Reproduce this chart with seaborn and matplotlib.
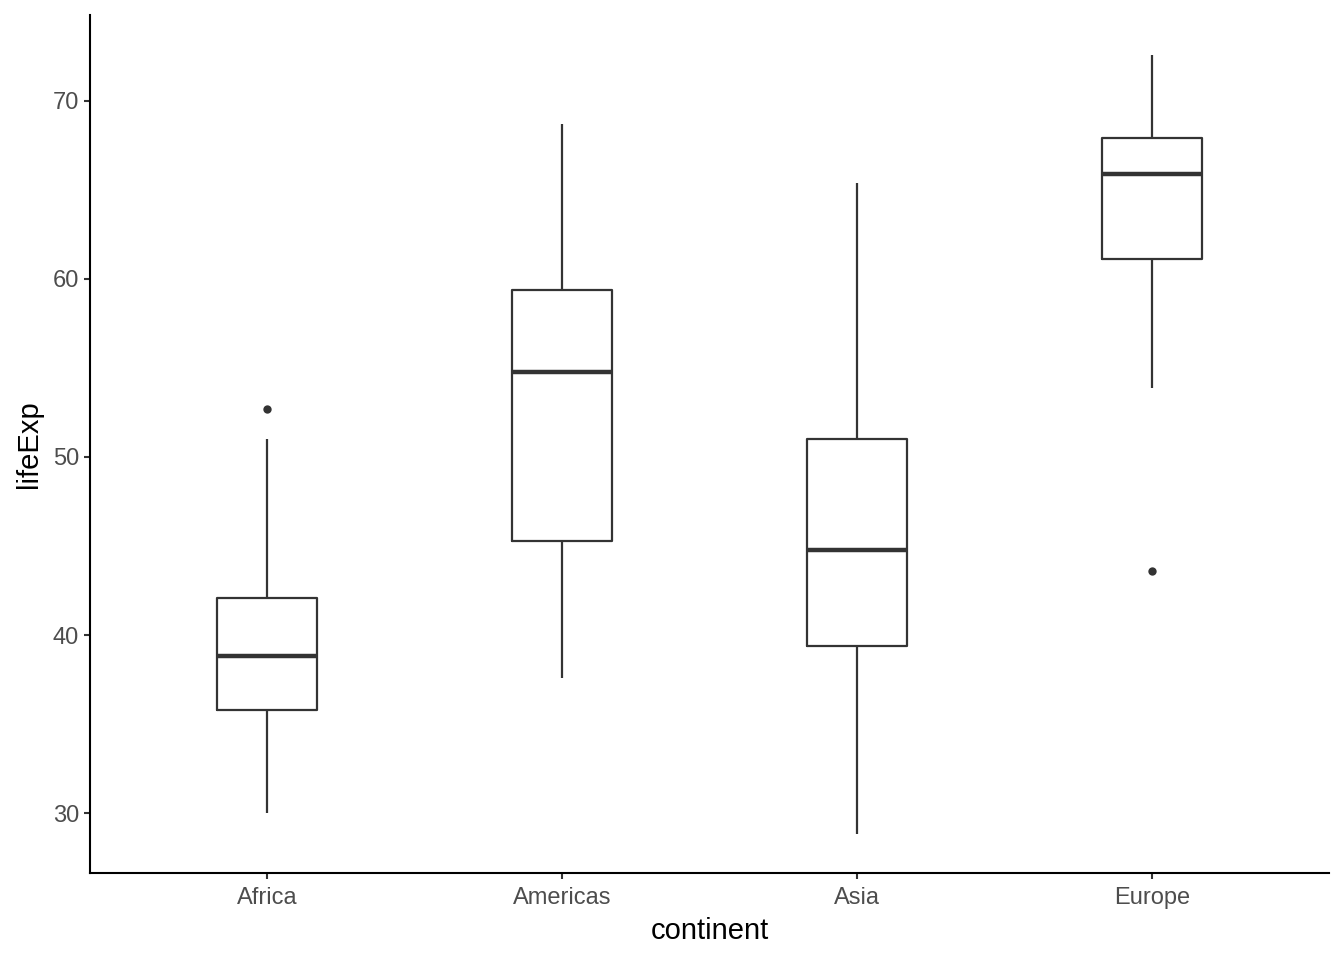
import matplotlib
matplotlib.use("Agg")
import matplotlib.pyplot as plt
import seaborn as sns
import pandas as pd

# Five-number summaries (min whisker, Q1, median, Q3, max whisker)
continents = ["Africa", "Americas", "Asia", "Europe"]
whisker_low = [30.0, 37.6, 28.8, 53.9]
q1 = [35.8, 45.3, 39.4, 61.1]
median = [38.8, 54.8, 44.8, 65.9]
q3 = [42.1, 59.4, 51.0, 67.9]
whisker_high = [51.0, 68.7, 65.4, 72.6]

# Outlying points
outlier_continent = ["Africa", "Europe"]
outlier_value = [52.7, 43.6]

rows = []
for i, c in enumerate(continents):
    for v in (whisker_low[i], q1[i], median[i], q3[i], whisker_high[i]):
        rows.append({"continent": c, "lifeExp": v})
df = pd.DataFrame(rows)
out_df = pd.DataFrame({"continent": outlier_continent, "lifeExp": outlier_value})

sns.set_theme(style="ticks")
plt.rcParams["font.family"] = ["Liberation Sans", "DejaVu Sans"]

fig = plt.figure(figsize=(13.44, 9.6), dpi=100)
ax = fig.add_axes([90 / 1344, 87 / 960, (1329 - 90) / 1344, (873 - 15) / 960])

line_col = "#333333"
sns.boxplot(
    data=df, x="continent", y="lifeExp", order=continents,
    width=0.34, whis=(0, 100), fill=False, color=line_col,
    linewidth=1.6, showfliers=False, showcaps=False, ax=ax,
    medianprops={"linewidth": 3.2, "color": line_col},
)
sns.stripplot(
    data=out_df, x="continent", y="lifeExp", order=continents,
    jitter=False, color=line_col, size=6, linewidth=0, ax=ax,
)

ax.set_xlim(-0.6, 3.6)
ax.set_ylim(26.63, 74.83)
ax.set_yticks([30, 40, 50, 60, 70])

for side in ("top", "right"):
    ax.spines[side].set_visible(False)
for side in ("left", "bottom"):
    ax.spines[side].set_linewidth(1.5)
    ax.spines[side].set_color("black")

ax.tick_params(axis="both", length=4, width=1.5, color="#333333",
               labelsize=17, labelcolor="#4d4d4d", pad=4)
ax.tick_params(axis="x", pad=6)
ax.set_xlabel("continent", fontsize=21, color="black", labelpad=6)
ax.set_ylabel("lifeExp", fontsize=21, color="black", labelpad=7)
ax.grid(False)

fig.savefig("out.png", dpi=100)
